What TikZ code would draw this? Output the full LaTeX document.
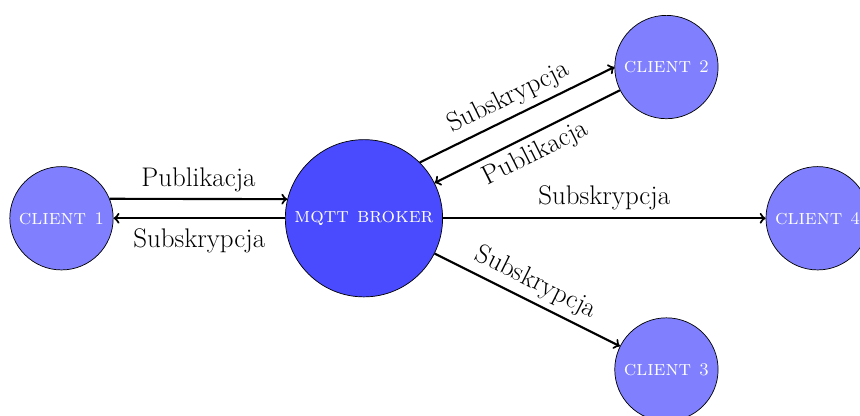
\documentclass[tikz,border=0pt]{standalone}
\definecolor{mqttclient}{RGB}{128,128,255}
\definecolor{mqttbroker}{RGB}{74,74,255}
\usepackage{tikz}
\usetikzlibrary{arrows,positioning,calc}

\begin{document}
\begin{tikzpicture}[every node/.style={font=\fontsize{15.2}{18}\selectfont},
    clientnode/.style={draw, circle, fill=mqttclient, text=white, minimum size=2.05cm, inner sep=0pt, font=\large\scshape},
    brokernode/.style={draw, circle, fill=mqttbroker, text=white, minimum size=3.12cm, inner sep=0pt, font=\large\scshape},
    msg/.style={->, very thick}]
    \useasboundingbox (-7.22,-3.91) rectangle (9.84,4.33);

    % Central node
    \node[brokernode] (broker) at (0,0) {mqtt broker};

    % Clients
    \node[clientnode] (c1) at (-6,0) {client {\normalsize 1}};
    \node[clientnode] (c2) at (6,3) {client {\normalsize 2}};
    \node[clientnode] (c3) at (6,-3) {client {\normalsize 3}};
    \node[clientnode] (c4) at (9,0) {client {\normalsize 4}};

    % Arrows
    \draw[msg] (c1.22) -- node[above] {Publikacja} (broker.166);
    \draw[msg] (broker.west) -- node[below=2pt] {Subskrypcja} (c1.east);
    \draw[msg] (broker.45) -- node[above, sloped] {Subskrypcja} (c2.west);
    \draw[msg] (c2) -- node[below, sloped] {Publikacja} (broker);
    \draw[msg] (broker.east) -- node[above=1pt] {Subskrypcja} (c4.west);
    \draw[msg] (broker) -- node[above, sloped] {Subskrypcja} (c3);
\end{tikzpicture}
\end{document}
